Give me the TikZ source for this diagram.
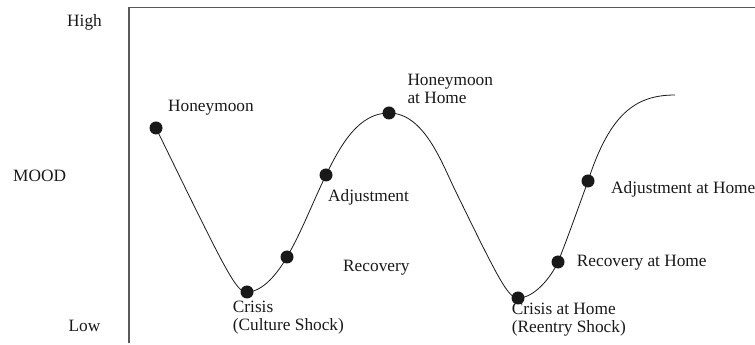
\documentclass[tikz,border=0pt]{standalone}
\usepackage{fontspec}
\setmainfont{Liberation Serif}
\begin{document}
\begin{tikzpicture}[x=1pt,y=1pt,
  lbl/.style={inner sep=0pt,font=\fontsize{17.3}{18.2}\selectfont,text=black!90},
  dot/.style={circle,fill=black!90,inner sep=0pt,minimum size=13pt},
  curve/.style={draw=black!90,line width=0.8pt},
  frame/.style={draw=black!65,line width=1.3pt}]
\useasboundingbox (0,0) rectangle (755,345);
% axes frame
\coordinate (fb) at (129,1.5);
\coordinate (ft) at (129,337.5);
\coordinate (fr) at (755,337.5);
\draw[frame] (fb) -- (ft) -- (fr);
% curve points
\coordinate (H) at (156,217);
\coordinate (C) at (247,53);
\coordinate (R) at (287,88);
\coordinate (A) at (326,170);
\coordinate (P) at (389,232);
\coordinate (M) at (455,155);
\coordinate (CH) at (518,47);
\coordinate (RH) at (558,83);
\coordinate (AH) at (588,164);
\coordinate (E) at (675,250);
\draw[curve] (H) .. controls +(-64:164) and +(180:11) .. (C)
  .. controls +(0:16) and +(240:18) .. (R)
  .. controls +(60:30) and +(244:30) .. (A)
  .. controls +(64:35) and +(180:30) .. (P)
  .. controls +(0:35) and +(116:30) .. (M)
  .. controls +(-64:100) and +(180:10) .. (CH)
  .. controls +(0:16) and +(245:18) .. (RH)
  .. controls +(68:25) and +(250:25) .. (AH)
  .. controls +(72:70) and +(180:40) .. (E);
% dots
\node[dot] (dH) at (H) {};
\node[dot] (dC) at (C) {};
\node[dot] (dR) at (R) {};
\node[dot] (dA) at (A) {};
\node[dot] (dP) at (P) {};
\node[dot] (dCH) at (CH) {};
\node[dot] (dRH) at (RH) {};
\node[dot] (dAH) at (AH) {};
% axis labels
\node[lbl,anchor=base east] (high) at (102,318.5) {High};
\node[lbl,anchor=base west] (mood) at (13,163) {MOOD};
\node[lbl,anchor=base east] (low) at (100.5,13.5) {Low};
% stage labels (multi-line nodes: base = last line)
\node[lbl,anchor=base west] (lH) at (168,233.5) {Honeymoon};
\node[lbl,anchor=base west] (lA) at (328,143.5) {Adjustment};
\node[lbl,anchor=base west] (lR) at (343,73.5) {Recovery};
\node[lbl,anchor=base west,align=left] (lC) at (232.7,14) {Crisis\\(Culture Shock)};
\node[lbl,anchor=base west,align=left] (lP) at (407.3,241) {Honeymoon\\at Home};
\node[lbl,anchor=base west,align=left] (lCH) at (511.7,12) {Crisis at Home\\(Reentry Shock)};
\node[lbl,anchor=base west] (lRH) at (576.7,78.5) {Recovery at Home};
\node[lbl,anchor=base west] (lAH) at (611,151.8) {Adjustment at Home};
\end{tikzpicture}
\end{document}
